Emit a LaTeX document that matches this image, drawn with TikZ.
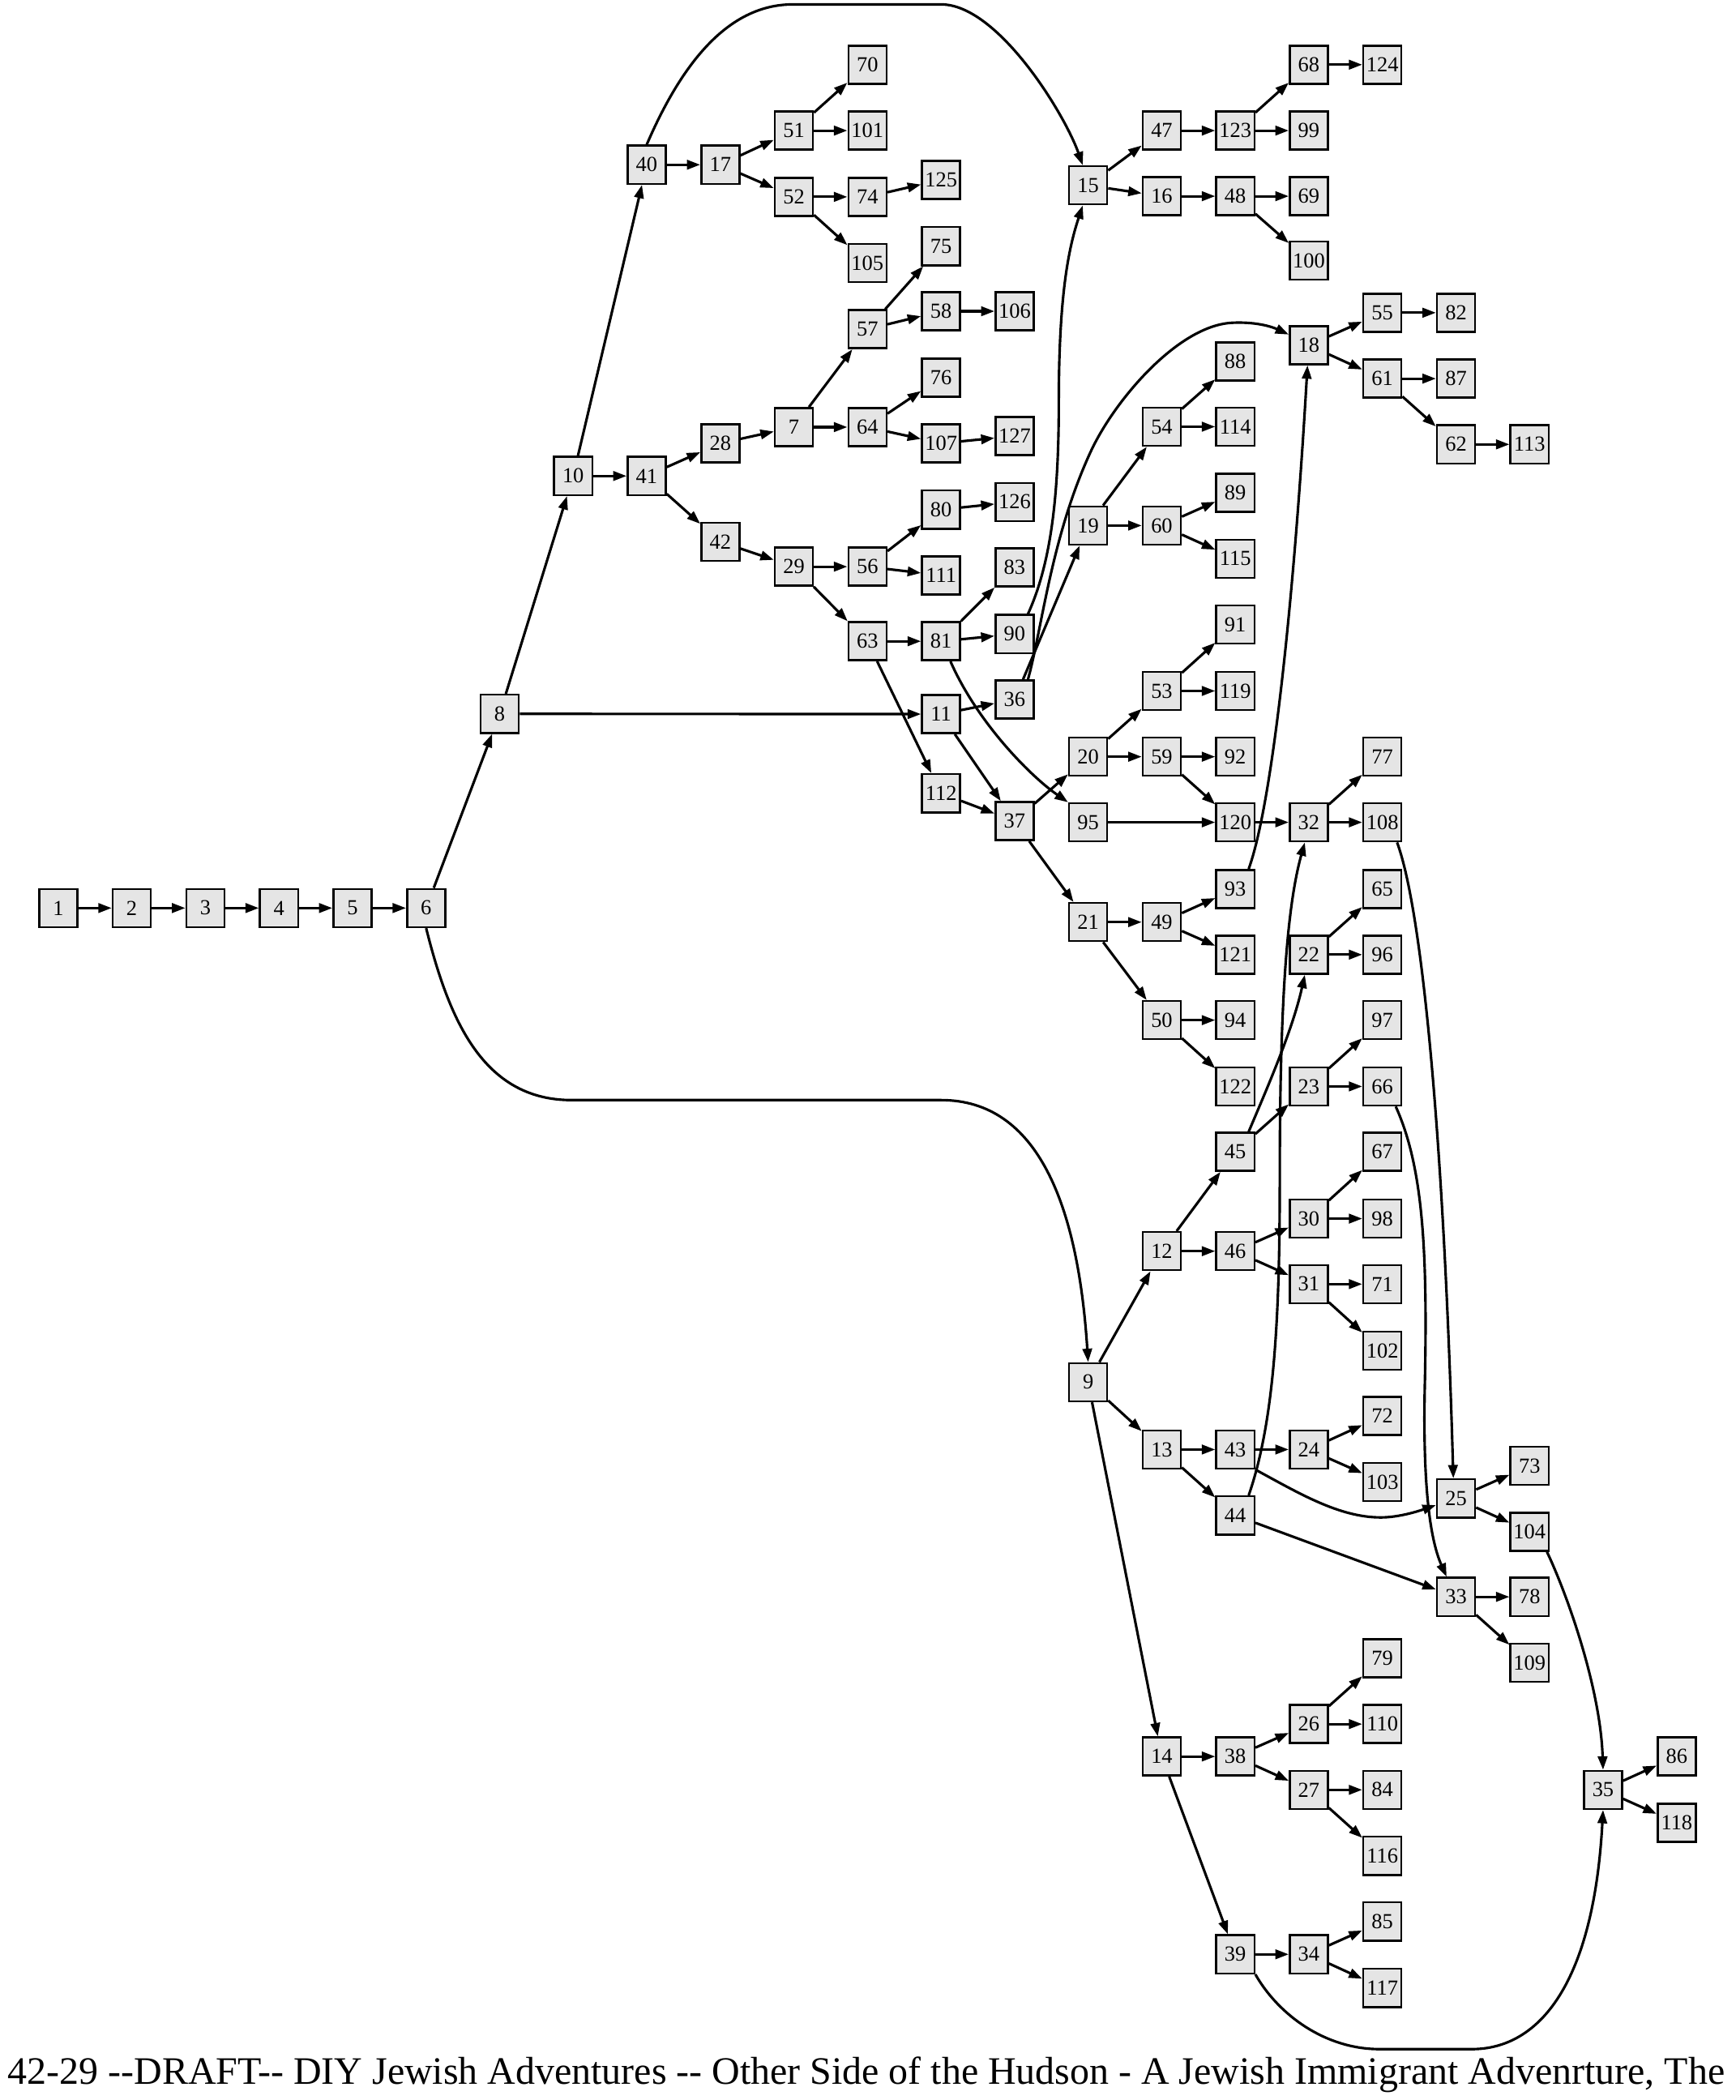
\documentclass[tikz,border=0pt]{standalone}
\usepackage{fontspec}
\setmainfont{Liberation Serif}
\usetikzlibrary{arrows.meta,calc}
\tikzset{
  box/.style={draw=black,line width=1.5pt,fill=gray!20,minimum size=28.5pt,inner sep=0pt,
    font=\fontsize{16}{19}\selectfont},
  e/.style={line width=1.9pt,-{Triangle[length=10pt,width=7pt]}},
  titlestyle/.style={font=\fontsize{29}{33}\selectfont,inner sep=0pt,anchor=base}
}
\begin{document}
\begin{tikzpicture}[x=1pt,y=-1pt]
\useasboundingbox[fill=white] (0,0) rectangle (1296,1568);
\foreach \n/\x/\y in {
 1/43.5/678, 2/98.4/678, 3/153.4/678, 4/208.3/678, 5/263.2/678, 6/318.2/678,
 8/373.1/533, 10/428.0/355.4,
 40/482.9/123, 41/482.9/355.4,
 17/537.9/123, 28/537.9/331, 42/537.9/404.5,
 51/592.8/97.5, 52/592.8/147, 7/592.8/318.9, 29/592.8/423.1,
 70/647.7/48.3, 101/647.7/97.5, 74/647.7/147, 105/647.7/196.5, 57/647.7/245.8, 64/647.7/318.9, 56/647.7/423.1, 63/647.7/478.8,
 125/702.7/134.3, 75/702.7/183.8, 58/702.7/232.4, 76/702.7/281.9, 107/702.7/331, 80/702.7/380.5, 111/702.7/429.6, 81/702.7/478.8, 11/702.7/533.2, 112/702.7/592.3,
 106/757.6/232.4, 127/757.6/325.6, 126/757.6/374.8, 83/757.6/423.6, 90/757.6/473.4, 36/757.6/522.2, 37/757.6/613.1,
 15/812.5/138.4, 19/812.5/392.4, 20/812.5/565, 95/812.5/614, 21/812.5/688.5, 9/812.5/1032,
 47/867.5/97.5, 16/867.5/146.5, 54/867.5/318.6, 60/867.5/392.4, 53/867.5/515.9, 59/867.5/565, 49/867.5/688.5, 50/867.5/761.7, 12/867.5/934.2, 13/867.5/1082.3, 14/867.5/1311.5,
 123/922.4/97.5, 48/922.4/146.5, 88/922.4/270, 114/922.4/318.6, 89/922.4/368, 115/922.4/417.2, 91/922.4/466.4, 119/922.4/515.9, 92/922.4/565, 120/922.4/614, 93/922.4/663.8, 121/922.4/712.8, 94/922.4/761.7, 122/922.4/811.2, 45/922.4/860, 46/922.4/934.2, 43/922.4/1082.3, 44/922.4/1131.5, 38/922.4/1311.5, 39/922.4/1459.2,
 68/977.3/48.3, 99/977.3/97.5, 69/977.3/146.5, 100/977.3/194.6, 18/977.3/257.8, 32/977.3/614, 22/977.3/712.8, 23/977.3/811.2, 30/977.3/909.9, 31/977.3/958.8, 24/977.3/1082.3, 26/977.3/1287.3, 27/977.3/1336.4, 34/977.3/1459.2,
 124/1032.2/48.3, 55/1032.2/233.5, 61/1032.2/282.7, 77/1032.2/565, 108/1032.2/614, 65/1032.2/663.8, 96/1032.2/712.8, 97/1032.2/761.7, 66/1032.2/811.2, 67/1032.2/860, 98/1032.2/909.9, 71/1032.2/958.8, 102/1032.2/1008.5, 72/1032.2/1057.2, 103/1032.2/1106.6, 79/1032.2/1238.2, 110/1032.2/1287.3, 84/1032.2/1336.4, 116/1032.2/1385.7, 85/1032.2/1434.7, 117/1032.2/1484.3,
 82/1087.2/233.5, 87/1087.2/282.7, 62/1087.2/331.8, 25/1087.2/1118.8, 33/1087.2/1192.3,
 113/1142.1/331.8, 73/1142.1/1094.5, 104/1142.1/1143.7, 78/1142.1/1192.3, 109/1142.1/1241.5,
 35/1197.0/1336.4,
 86/1252.0/1311.5, 118/1252.0/1361}
 \node[box] (n\n) at (\x,\y) {\n};

\foreach \a/\b in {1/2, 2/3, 3/4, 4/5, 5/6, 6/8, 8/10, 8/11, 10/40, 10/41, 40/17, 17/51, 17/52,
 51/70, 51/101, 52/74, 52/105, 74/125, 41/28, 41/42, 28/7, 7/57, 7/64, 57/75, 57/58, 58/106,
 64/76, 64/107, 107/127, 42/29, 29/56, 29/63, 56/80, 56/111, 80/126, 63/81, 63/112, 81/83,
 81/90, 11/36, 11/37, 112/37, 36/19, 37/20, 37/21, 15/47, 15/16, 47/123, 123/68, 123/99,
 68/124, 16/48, 48/69, 48/100, 18/55, 18/61, 55/82, 61/87, 61/62, 62/113, 19/54, 19/60,
 54/88, 54/114, 60/89, 60/115, 20/53, 20/59, 53/91, 53/119, 59/92, 59/120, 95/120, 120/32,
 32/77, 32/108, 21/49, 21/50, 49/93, 49/121, 50/94, 50/122, 9/12, 9/13, 9/14, 12/45, 12/46,
 45/23, 22/65, 22/96, 23/97, 23/66, 46/30, 46/31, 30/67, 30/98, 31/71, 31/102, 13/43, 13/44,
 43/24, 24/72, 24/103, 44/33, 25/73, 25/104, 33/78, 33/109, 14/38, 14/39, 38/26, 38/27,
 26/79, 26/110, 27/84, 27/116, 39/34, 34/85, 34/117, 35/86, 35/118}
 \draw[e] (n\a) -- (n\b);

% curved connectors
\draw[e] (n40.north) .. controls (510,45) and (545,3.3) .. (592,3.3) -- (702.8,3.3)
  .. controls (745,3.3) and (795,85) .. ($(n15.north)+(-4,0)$);
\draw[e] (n6.south) .. controls (335,760) and (360,821.4) .. (426.8,821.4) -- (702.8,821.4)
  .. controls (775,821.4) and (805,900) .. (n9.north);
\draw[e] ($(n90.north)+(10,0)$) .. controls (785,420) and (790.6,370) .. (790.6,300)
  .. controls (790.6,220) and (798,185) .. ($(n15.south)+(-4,0)$);
\draw[e] ($(n36.north)+(10,0)$) .. controls (778,470) and (785,400) .. (815,336)
  .. controls (833,298) and (880,243) .. (920,241)
  .. controls (940,240) and (952,245) .. ($(n18.west)+(0,-8)$);
\draw[e] ($(n93.north)+(10,0)$) .. controls (950,600) and (966,450) .. ($(n18.south)+(-1,0)$);
\draw[e] ($(n44.north)+(10,0)$) .. controls (952,1060) and (955.6,980) .. (955.6,880)
  .. controls (955.6,760) and (960,680) .. ($(n32.south)+(-3,0)$);
\draw[e] ($(n45.north)+(10,0)$) .. controls (945,815) and (965,770) .. ($(n22.south)+(-3,0)$);
\draw[e] ($(n108.south)+(11,0)$) .. controls (1062,680) and (1078,850) .. ($(n25.north)+(-2,0)$);
\draw[e] ($(n66.south)+(10,0)$) .. controls (1062,870) and (1066,930) .. (1064,1030)
  .. controls (1062,1110) and (1068,1150) .. ($(n33.north)+(-7,0)$);
\draw[e] (n43.south east) .. controls (970,1115) and (1000,1133) .. (1031,1133)
  .. controls (1045,1133) and (1060,1128) .. ($(n25.west)+(0,5)$);
\draw[e] ($(n104.south)+(13,0)$) .. controls (1170,1190) and (1195,1260) .. (n35.north);
\draw[e] (n39.south east) .. controls (955,1505) and (990,1530) .. (1030,1530) -- (1099,1530)
  .. controls (1150,1530) and (1190,1480) .. (n35.south);
\draw[e] ($(n81.south)+(7,0)$) .. controls (730,540) and (770,580) .. (n95.north west);

\node[titlestyle] (title) at (647,1556) {42-29 -{}-DRAFT-{}- DIY Jewish Adventures -{}- Other Side of the Hudson - A Jewish Immigrant Advenrture, The};
\end{tikzpicture}
\end{document}
